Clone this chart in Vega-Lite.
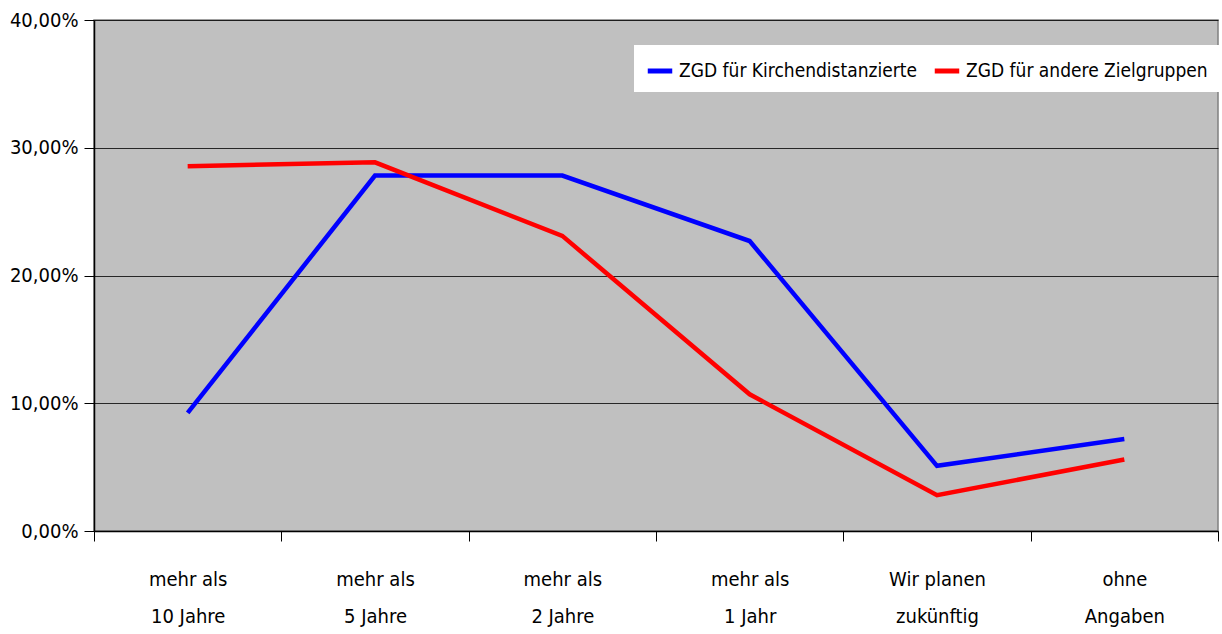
{
  "$schema": "https://vega.github.io/schema/vega-lite/v6.json",
  "width": 1124,
  "height": 511,
  "autosize": {"type": "none"},
  "padding": {"left": 94, "top": 20, "right": 4, "bottom": 103},
  "background": "white",
  "config": {
    "view": {"fill": "#C0C0C0", "stroke": "#808080", "strokeWidth": 1.5},
    "font": "'Liberation Sans Narrow', 'DejaVu Sans Condensed', 'Liberation Sans', sans-serif"
  },
  "data": {
    "values": [
      {"k": "mehr als|10 Jahre", "s": "ZGD für Kirchendistanzierte", "v": 0.0925},
      {"k": "mehr als|5 Jahre", "s": "ZGD für Kirchendistanzierte", "v": 0.2782},
      {"k": "mehr als|2 Jahre", "s": "ZGD für Kirchendistanzierte", "v": 0.2782},
      {"k": "mehr als|1 Jahr", "s": "ZGD für Kirchendistanzierte", "v": 0.227},
      {"k": "Wir planen|zukünftig", "s": "ZGD für Kirchendistanzierte", "v": 0.051},
      {"k": "ohne|Angaben", "s": "ZGD für Kirchendistanzierte", "v": 0.072},
      {"k": "mehr als|10 Jahre", "s": "ZGD für andere Zielgruppen", "v": 0.2855},
      {"k": "mehr als|5 Jahre", "s": "ZGD für andere Zielgruppen", "v": 0.2886},
      {"k": "mehr als|2 Jahre", "s": "ZGD für andere Zielgruppen", "v": 0.231},
      {"k": "mehr als|1 Jahr", "s": "ZGD für andere Zielgruppen", "v": 0.107},
      {"k": "Wir planen|zukünftig", "s": "ZGD für andere Zielgruppen", "v": 0.028},
      {"k": "ohne|Angaben", "s": "ZGD für andere Zielgruppen", "v": 0.056}
    ]
  },
  "mark": {"type": "line", "strokeWidth": 4.5},
  "encoding": {
    "x": {
      "field": "k",
      "type": "nominal",
      "sort": null,
      "scale": {"type": "band", "paddingInner": 0, "paddingOuter": 0},
      "axis": {
        "title": null,
        "labelAngle": 0,
        "labelExpr": "split(datum.label, '|')",
        "labelFontSize": 20,
        "labelColor": "black",
        "labelLineHeight": 37,
        "labelPadding": 28,
        "labelLimit": 300,
        "tickBand": "extent",
        "tickSize": 10,
        "tickColor": "black",
        "domainColor": "black",
        "domainWidth": 1.5,
        "grid": false
      }
    },
    "y": {
      "field": "v",
      "type": "quantitative",
      "scale": {"domain": [0, 0.4]},
      "axis": {
        "title": null,
        "values": [0, 0.1, 0.2, 0.3, 0.4],
        "labelExpr": "replace(format(datum.value, '.2%'), '.', ',')",
        "labelFontSize": 20,
        "labelColor": "black",
        "labelPadding": 6,
        "tickSize": 10,
        "tickColor": "black",
        "domainColor": "black",
        "domainWidth": 1.5,
        "grid": true,
        "gridColor": "black",
        "gridWidth": 1,
        "gridOpacity": 0.8
      }
    },
    "color": {
      "field": "s",
      "type": "nominal",
      "sort": null,
      "scale": {"range": ["#0000FF", "#FF0000"]},
      "legend": {
        "title": null,
        "orient": "none",
        "legendX": 540,
        "legendY": 25,
        "direction": "horizontal",
        "columns": 2,
        "fillColor": "white",
        "padding": 11,
        "symbolType": "stroke",
        "symbolStrokeWidth": 5,
        "symbolSize": 600,
        "labelFontSize": 19,
        "labelColor": "black",
        "labelLimit": 400,
        "columnPadding": 6,
        "labelOffset": 4
      }
    }
  }
}
